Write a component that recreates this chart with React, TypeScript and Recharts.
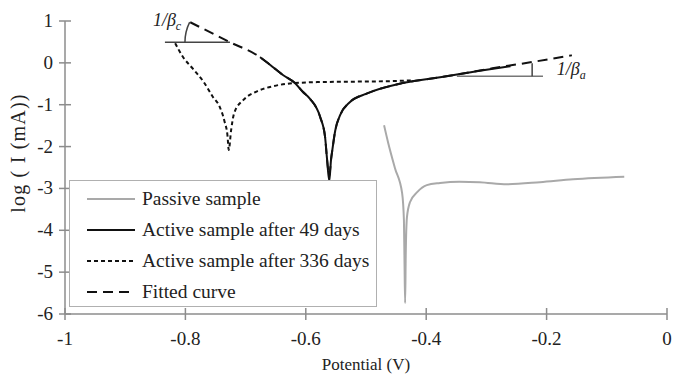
import {
  Legend,
  Line,
  LineChart,
  ReferenceDot,
  ReferenceLine,
  XAxis,
  YAxis,
} from "recharts";

// [potential (V), log(I)]
const PASSIVE: [number, number][] = [
  [-0.47, -1.49], [-0.463, -1.92], [-0.452, -2.51], [-0.44, -3.11],
  [-0.437, -3.76], [-0.436, -4.8], [-0.435, -5.74], [-0.434, -4.6],
  [-0.432, -3.69], [-0.427, -3.33], [-0.415, -3.09], [-0.399, -2.92],
  [-0.377, -2.87], [-0.345, -2.84], [-0.311, -2.85], [-0.266, -2.9],
  [-0.211, -2.85], [-0.156, -2.78], [-0.071, -2.72],
];

const ACTIVE_49: [number, number][] = [
  [-0.676, 0.136], [-0.659, -0.05], [-0.638, -0.29], [-0.619, -0.47],
  [-0.605, -0.69], [-0.593, -0.86], [-0.576, -1.3], [-0.568, -1.77],
  [-0.565, -2.25], [-0.561, -2.82], [-0.558, -2.3], [-0.556, -2.09],
  [-0.551, -1.61], [-0.543, -1.25], [-0.527, -0.94], [-0.498, -0.73],
  [-0.444, -0.5], [-0.394, -0.38], [-0.349, -0.28], [-0.311, -0.19],
  [-0.26, -0.08],
];

const ACTIVE_336: [number, number][] = [
  [-0.817, 0.47], [-0.804, 0.14], [-0.787, -0.15], [-0.77, -0.45],
  [-0.754, -0.82], [-0.743, -1.05], [-0.735, -1.4], [-0.73, -1.75],
  [-0.728, -2.08], [-0.724, -1.6], [-0.719, -1.2], [-0.704, -0.89],
  [-0.681, -0.68], [-0.655, -0.56], [-0.631, -0.5], [-0.581, -0.46],
  [-0.527, -0.45], [-0.47, -0.44], [-0.424, -0.42],
];

const FITTED: [number, number][] = [
  [-0.792, 0.97], [-0.726, 0.494], [-0.676, 0.136], [-0.659, -0.05],
  [-0.638, -0.29], [-0.619, -0.47], [-0.605, -0.69], [-0.593, -0.86],
  [-0.576, -1.3], [-0.568, -1.77], [-0.565, -2.25], [-0.561, -2.7],
  [-0.558, -2.3], [-0.556, -2.09], [-0.551, -1.61], [-0.543, -1.25],
  [-0.527, -0.94], [-0.498, -0.73], [-0.444, -0.5], [-0.394, -0.38],
  [-0.349, -0.28], [-0.29, -0.13], [-0.224, 0.02], [-0.158, 0.18],
];

const X_TICKS = [-1, -0.8, -0.6, -0.4, -0.2, 0];
const Y_TICKS = [-6, -5, -4, -3, -2, -1, 0, 1];

// Tafel slope markers
const BETA_C_BASE = { x0: -0.834, x1: -0.726, y: 0.494 };
const BETA_A_BASE = { x0: -0.349, x1: -0.206, y: -0.317 };
const BETA_A_RISE = { x: -0.224, y0: -0.317, y1: -0.01 };

const FONT = '"Liberation Serif", "Times New Roman", serif';
const AXIS = "#8c8c8c";
const INK = "#222";

const toPts = (arr: [number, number][]) => arr.map(([v, logI]) => ({ v, logI }));

const SERIES = [
  { key: "passive", name: "Passive sample", data: toPts(PASSIVE), stroke: "#a9a9a9", width: 2, dash: undefined },
  { key: "a49", name: "Active sample after 49 days", data: toPts(ACTIVE_49), stroke: "#111", width: 2, dash: undefined },
  { key: "a336", name: "Active sample after 336 days", data: toPts(ACTIVE_336), stroke: "#111", width: 2, dash: "4 3" },
  { key: "fit", name: "Fitted curve", data: toPts(FITTED), stroke: "#111", width: 2, dash: "10 6" },
];

function XTick({ x, y, payload }: any) {
  return (
    <g>
      <line x1={x} y1={y - 6} x2={x} y2={y + 6} stroke={AXIS} strokeWidth={1.5} />
      <text x={x} y={y + 31} textAnchor="middle" fontSize={19} fill={INK} fontFamily={FONT}>
        {payload.value}
      </text>
    </g>
  );
}

function YTick({ x, y, payload }: any) {
  return (
    <g>
      <line x1={x - 6} y1={y} x2={x + 6} y2={y} stroke={AXIS} strokeWidth={1.5} />
      <text x={x - 12} y={y + 6} textAnchor="end" fontSize={19} fill={INK} fontFamily={FONT}>
        {payload.value}
      </text>
    </g>
  );
}

function YLabel({ viewBox }: any) {
  const cx = viewBox.x + 25;
  const cy = viewBox.y + 132;
  return (
    <text
      x={0}
      y={0}
      transform={`translate(${cx}, ${cy}) rotate(-90)`}
      textAnchor="middle"
      fontSize={20}
      letterSpacing={1.2}
      fill={INK}
      fontFamily={FONT}
    >
      log ( I (mA))
    </text>
  );
}

function XLabel({ viewBox }: any) {
  return (
    <text
      x={viewBox.x + viewBox.width / 2}
      y={viewBox.y + 56}
      textAnchor="middle"
      fontSize={17}
      fill={INK}
      fontFamily={FONT}
    >
      Potential (V)
    </text>
  );
}

function LegendBox() {
  return (
    <div style={{ fontFamily: FONT, fontSize: 19.5, color: INK, paddingTop: 2 }}>
      {SERIES.map((s) => (
        <div key={s.key} style={{ height: 31, display: "flex", alignItems: "center" }}>
          <svg width={72} height={10} style={{ flex: "none" }}>
            <line
              x1={17}
              y1={5}
              x2={65}
              y2={5}
              stroke={s.stroke}
              strokeWidth={s.width}
              strokeDasharray={s.dash}
            />
          </svg>
          <span style={{ whiteSpace: "nowrap" }}>{s.name}</span>
        </div>
      ))}
    </div>
  );
}

function Slope({ cx, cy, label }: any) {
  return (
    <text x={cx} y={cy + 6} fontFamily={FONT} fontStyle="italic" fontSize={18} fill={INK}>
      1/β
      <tspan fontSize={12} dy={4}>{label}</tspan>
    </text>
  );
}

function Arc({ cx, cy }: any) {
  const r = 45;
  const t = Math.atan(0.5);
  const ex = cx - r * Math.cos(t);
  const ey = cy - r * Math.sin(t);
  return (
    <path
      d={`M ${cx - r} ${cy} A ${r} ${r} 0 0 1 ${ex} ${ey}`}
      fill="none"
      stroke="#444"
      strokeWidth={1.5}
    />
  );
}

export default function App() {
  return (
    <div style={{ position: "absolute", left: 0, top: 0, width: 673, height: 382, background: "#fff" }}>
      <LineChart width={673} height={382} margin={{ top: 21, right: 6, bottom: 8, left: 0 }}>
        <XAxis
          type="number"
          dataKey="v"
          domain={[-1, 0]}
          ticks={X_TICKS}
          allowDataOverflow
          tickSize={0}
          tickMargin={0}
          tickLine={false}
          tick={<XTick />}
          height={60}
          axisLine={{ stroke: AXIS, strokeWidth: 1.5 }}
          label={XLabel}
        />
        <YAxis
          type="number"
          dataKey="logI"
          domain={[-6, 1]}
          ticks={Y_TICKS}
          allowDataOverflow
          tickSize={0}
          tickMargin={0}
          tickLine={false}
          tick={<YTick />}
          width={65}
          axisLine={{ stroke: AXIS, strokeWidth: 1.5 }}
          label={YLabel}
        />
        <Legend
          layout="vertical"
          align="center"
          verticalAlign="middle"
          content={<LegendBox />}
          wrapperStyle={{
            left: 69,
            top: 180,
            width: 308,
            height: 127,
            border: "1.5px solid #b0b0b0",
            background: "#fff",
            boxSizing: "border-box",
          }}
        />
        <ReferenceLine
          segment={[{ x: BETA_C_BASE.x0, y: BETA_C_BASE.y }, { x: BETA_C_BASE.x1, y: BETA_C_BASE.y }]}
          stroke="#444"
          strokeWidth={1.5}
        />
        <ReferenceLine
          segment={[{ x: BETA_A_BASE.x0, y: BETA_A_BASE.y }, { x: BETA_A_BASE.x1, y: BETA_A_BASE.y }]}
          stroke="#777"
          strokeWidth={1.5}
        />
        <ReferenceLine
          segment={[{ x: BETA_A_RISE.x, y: BETA_A_RISE.y0 }, { x: BETA_A_RISE.x, y: BETA_A_RISE.y1 }]}
          stroke="#444"
          strokeWidth={1.5}
        />
        <ReferenceDot x={BETA_C_BASE.x1} y={BETA_C_BASE.y} ifOverflow="visible" shape={<Arc />} />
        <ReferenceDot x={-0.854} y={1.02} ifOverflow="visible" shape={<Slope label="c" />} />
        <ReferenceDot x={-0.183} y={-0.15} ifOverflow="visible" shape={<Slope label="a" />} />
        {SERIES.map((s) => (
          <Line
            key={s.key}
            data={s.data}
            dataKey="logI"
            name={s.name}
            type="monotone"
            stroke={s.stroke}
            strokeWidth={s.width}
            strokeDasharray={s.dash}
            dot={false}
            activeDot={false}
            legendType="line"
            isAnimationActive={false}
          />
        ))}
      </LineChart>
    </div>
  );
}
